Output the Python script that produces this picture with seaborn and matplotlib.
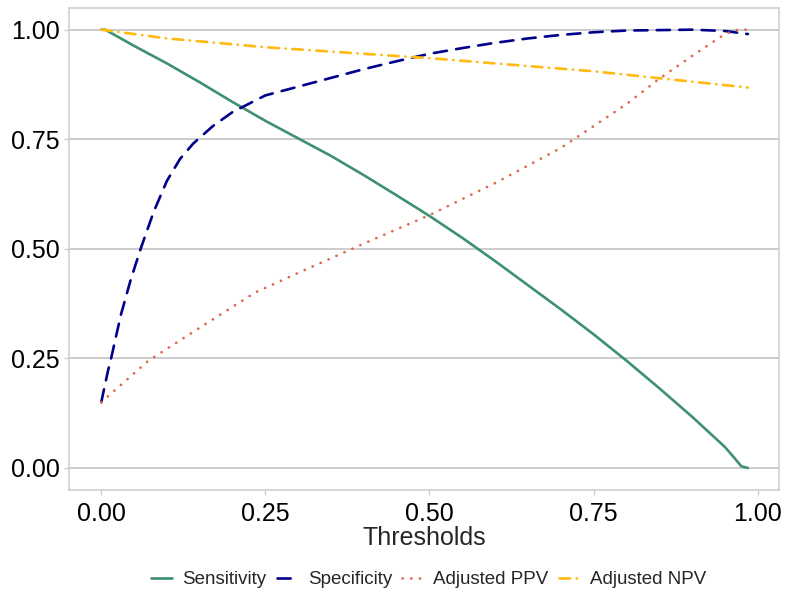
import numpy as np
import pandas as pd
import matplotlib
matplotlib.use("Agg")
import matplotlib.pyplot as plt
import seaborn as sns
from matplotlib.lines import Line2D

# valores
thr_sens = [0.0, 0.006, 0.05, 0.1, 0.15, 0.2, 0.25, 0.3, 0.35, 0.4, 0.45, 0.5, 0.55,
            0.6, 0.65, 0.7, 0.75, 0.8, 0.85, 0.9, 0.95, 0.965, 0.975, 0.985]
sensitivity = [1.0, 1.0, 0.963, 0.923, 0.88, 0.835, 0.792, 0.752, 0.712, 0.668, 0.622,
               0.575, 0.525, 0.472, 0.417, 0.362, 0.305, 0.245, 0.182, 0.117, 0.048,
               0.022, 0.004, 0.0]

thr_spec = [0.0, 0.01, 0.015, 0.03, 0.045, 0.06, 0.08, 0.1, 0.12, 0.14, 0.17, 0.2, 0.25,
            0.3, 0.35, 0.4, 0.45, 0.5, 0.55, 0.6, 0.65, 0.7, 0.75, 0.8, 0.9, 0.95, 0.985]
specificity = [0.15, 0.22, 0.25, 0.35, 0.43, 0.5, 0.585, 0.655, 0.705, 0.74, 0.78,
               0.812, 0.85, 0.87, 0.89, 0.91, 0.928, 0.945, 0.958, 0.97, 0.98, 0.988,
               0.994, 0.998, 1.0, 0.997, 0.99]

thr_ppv = [0.0, 0.072, 0.15, 0.234, 0.3, 0.4, 0.5, 0.6, 0.7, 0.75, 0.8, 0.85, 0.9,
           0.95, 0.97, 0.985]
adj_ppv = [0.15, 0.245, 0.32, 0.40, 0.445, 0.512, 0.577, 0.65, 0.73, 0.78, 0.83, 0.888,
           0.94, 0.99, 1.0, 1.0]

thr_npv = [0.0, 0.1, 0.25, 0.5, 0.75, 0.985]
adj_npv = [1.0, 0.98, 0.96, 0.935, 0.905, 0.868]

nombres = ["Sensitivity", "Specificity", "Adjusted PPV", "Adjusted NPV"]
colores = {"Sensitivity": "#3F9070", "Specificity": "#00008B",
           "Adjusted PPV": "#E0674A", "Adjusted NPV": "#FFB90F"}
guiones = {"Sensitivity": "", "Specificity": (5, 3.5),
           "Adjusted PPV": (0.1, 3.2), "Adjusted NPV": (4, 2.5, 0.1, 2.5)}

df = pd.concat([
    pd.DataFrame({"x": thr_sens, "y": sensitivity, "serie": "Sensitivity"}),
    pd.DataFrame({"x": thr_spec, "y": specificity, "serie": "Specificity"}),
    pd.DataFrame({"x": thr_ppv, "y": adj_ppv, "serie": "Adjusted PPV"}),
    pd.DataFrame({"x": thr_npv, "y": adj_npv, "serie": "Adjusted NPV"}),
])

sns.set_theme(style="white")
plt.rcParams["font.family"] = ["Liberation Sans", "DejaVu Sans"]

fig = plt.figure(figsize=(7.85, 5.96), dpi=100)
ax = fig.add_axes([0.088, 0.178, 0.904, 0.809])

sns.lineplot(data=df, x="x", y="y", hue="serie", style="serie", hue_order=nombres,
             style_order=nombres, palette=colores, dashes=guiones, linewidth=1.9,
             sort=False, estimator=None, ax=ax, legend=False)
for l in ax.lines:
    l.set_dash_capstyle("round")

ax.set_xlim(-0.049, 1.032)
ax.set_ylim(-0.05, 1.05)
ax.set_xticks([0, 0.25, 0.5, 0.75, 1.0])
ax.set_yticks([0, 0.25, 0.5, 0.75, 1.0])
ax.set_xticklabels(["0.00", "0.25", "0.50", "0.75", "1.00"])
ax.set_yticklabels(["0.00", "0.25", "0.50", "0.75", "1.00"])
ax.yaxis.grid(True, color="#BEBEBE", linewidth=1.1)
ax.xaxis.grid(False)
ax.tick_params(axis="both", labelsize=18, colors="#CCCCCC", labelcolor="black",
               length=3.5, width=1, pad=3, bottom=True, left=True)
ax.tick_params(axis="x", pad=5)
for s in ax.spines.values():
    s.set_color("#CCCCCC")
    s.set_linewidth(1.1)
ax.set_xlabel("Thresholds", fontsize=18, labelpad=0)
ax.set_ylabel("")

handles = [Line2D([], [], color=colores[n], linewidth=1.9,
                  linestyle=(0, guiones[n]) if guiones[n] else "-",
                  dash_capstyle="round") for n in nombres]
fig.legend(handles, nombres, loc="center", bbox_to_anchor=(0.546, 0.027), ncol=4,
           frameon=False, fontsize=13.5, handlelength=1.1, handletextpad=0.55,
           columnspacing=0.55, borderpad=0.2)

fig.savefig("out.png", dpi=100)
